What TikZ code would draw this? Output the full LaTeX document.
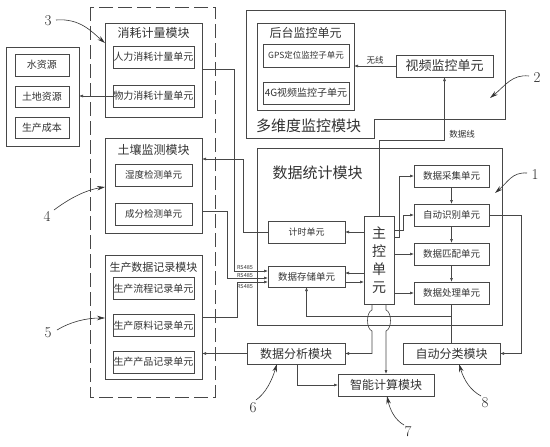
\documentclass[tikz,border=0pt]{standalone}
\usepackage{fontspec}
\newfontfamily\cjk{Noto Sans CJK SC}
\usetikzlibrary{arrows.meta}
\begin{document}
\begin{tikzpicture}[x=1pt,y=-1pt,
  ln/.style={draw=black!72, line width=0.6pt},
  arr/.style={ln, -{Latex[length=4pt,width=3pt]}},
  callout/.style={draw=black!80, line width=0.6pt, -{Stealth[length=8pt,width=4.5pt]}},
  box/.style={draw=black!72, line width=0.6pt, inner sep=0.5pt, outer sep=0pt, text=black!80, font=\cjk\fontsize{9.5pt}{11pt}\selectfont},
  ubox/.style={box, minimum width=77pt, minimum height=22pt},
  ubig/.style={ubox, font=\cjk\fontsize{10pt}{11pt}\selectfont},
  cont/.style={draw=black!72, line width=0.6pt, inner sep=0pt, outer sep=0pt},
  ttl/.style={inner sep=0pt, text=black!80, font=\cjk\fontsize{12pt}{13pt}\selectfont},
  big/.style={inner sep=0pt, text=black!80, font=\cjk\fontsize{15pt}{17pt}\selectfont},
  mbox/.style={box, font=\cjk\fontsize{12pt}{14pt}\selectfont},
  small/.style={inner sep=0pt, text=black!80, font=\cjk\fontsize{8.5pt}{9pt}\selectfont},
  rs/.style={inner sep=0pt, text=black!80, font=\cjk\fontsize{5.5pt}{6pt}\selectfont},
  num/.style={inner sep=0pt, text=black!85, font=\fontsize{15pt}{16pt}\selectfont},
  frame/.style={draw=black!72, line width=0.6pt, dash pattern=on 14pt off 5pt}
]
\useasboundingbox[fill=white] (0,0) rectangle (550,447);

% ---- left resource box
\node[cont, minimum width=73pt, minimum height=99pt] (res) at (42.5,96.5) {};
\node[box, minimum width=54pt, minimum height=22pt, font=\cjk\fontsize{10pt}{11pt}\selectfont] (water) at (42,65) {水资源};
\node[box, minimum width=54pt, minimum height=21pt, font=\cjk\fontsize{10pt}{11pt}\selectfont] (land) at (42,96.5) {土地资源};
\node[box, minimum width=54pt, minimum height=21pt, font=\cjk\fontsize{10pt}{11pt}\selectfont] (cost) at (42,127.5) {生产成本};

% ---- dashed frame
\draw[frame] (90,7) rectangle (215,397);

% ---- consumption module
\node[cont, minimum width=97pt, minimum height=94pt] (mod1) at (153.5,70) {};
\node[ttl] (t1) at (153.5,33) {消耗计量模块};
\node[ubig] (renli) at (153.5,57) {人力消耗计量单元};
\node[ubig] (wuli) at (153.5,96) {物力消耗计量单元};

% ---- soil module
\node[cont, minimum width=97pt, minimum height=95pt] (mod2) at (153.5,185.5) {};
\node[ttl] (t2) at (153.5,150) {土壤监测模块};
\node[ubox] (shidu) at (153.5,175) {湿度检测单元};
\node[ubox] (chengfen) at (153.5,214) {成分检测单元};

% ---- production record module
\node[cont, minimum width=97pt, minimum height=124pt] (mod3) at (153.5,317) {};
\node[ttl, font=\cjk\fontsize{11pt}{13pt}\selectfont] (t3) at (153.5,267) {生产数据记录模块};
\node[ubig] (liucheng) at (153.5,288.5) {生产流程记录单元};
\node[ubig] (yuanliao) at (153.5,325.5) {生产原料记录单元};
\node[ubig] (chanpin) at (153.5,362) {生产产品记录单元};

% ---- multi-dimension monitoring
\draw[ln] (246,10) -- (505,10) -- (505,119) -- (374,119) -- (374,138) -- (246,138) -- cycle;
\node[big, anchor=west] (t4) at (256,126) {多维度监控模块};
\node[cont, minimum width=97pt, minimum height=87pt] (houtai) at (305.5,66.5) {};
\node[ttl, font=\cjk\fontsize{12pt}{14pt}\selectfont] (t5) at (305.5,33) {后台监控单元};
\node[box, minimum width=86pt, minimum height=23pt, font=\cjk\fontsize{8.5pt}{9pt}\selectfont] (gps) at (306,55.5) {GPS定位监控子单元};
\node[box, minimum width=86pt, minimum height=22pt, font=\cjk\fontsize{10pt}{11pt}\selectfont] (sg) at (306,93) {4G视频监控子单元};
\node[mbox, minimum width=97pt, minimum height=22pt, font=\cjk\fontsize{13pt}{14pt}\selectfont] (shipin) at (444.5,66) {视频监控单元};

% ---- statistics module
\node[cont, minimum width=245pt, minimum height=177pt] (tongji) at (379.5,236.5) {};
\node[big] (t6) at (317.5,173) {数据统计模块};
\node[box, minimum width=30pt, minimum height=88pt, align=center, font=\cjk\fontsize{14pt}{18pt}\selectfont] (zhukong) at (379,260) {主\\控\\单\\元};
\node[ubox, font=\cjk\fontsize{9pt}{10pt}\selectfont] (jishi) at (306.5,232) {计时单元};
\node[ubox, minimum height=21pt] (cunchu) at (306.5,276.5) {数据存储单元};
\node[ubox, minimum width=75pt] (caiji) at (451.5,176) {数据采集单元};
\node[ubox, minimum width=75pt] (shibie) at (451.5,215) {自动识别单元};
\node[ubox, minimum width=75pt] (pipei) at (451.5,254) {数据匹配单元};
\node[ubox, minimum width=75pt] (chuli) at (451.5,293) {数据处理单元};

% ---- bottom modules
\node[mbox, minimum width=98pt, minimum height=21pt] (fenxi) at (296,353.5) {数据分析模块};
\node[mbox, minimum width=97pt, minimum height=21pt] (fenlei) at (451.5,353.5) {自动分类模块};
\node[mbox, minimum width=96pt, minimum height=22pt] (zhineng) at (386,385) {智能计算模块};

% ---- connectors
\draw[arr] (wuli.west) -- (wuli.west -| res.east);
\draw[arr] (mod1.east |- 0,69) -- (234,69) -- (234,271) -- (cunchu.west |- 0,271);
\draw[arr] (mod2.east |- 0,211) -| (227,278) -- (cunchu.west |- 0,278);
\draw[arr] (mod3.east |- 0,317) -| (237,282) -- (cunchu.west |- 0,282);
\node[rs] (rs1) at (245,267) {RS485};
\node[rs] (rs2) at (245,275) {RS485};
\node[rs] (rs3) at (245,286.5) {RS485};
\draw[arr] (jishi.west) -- (243,232) |- (mod2.east |- 0,159);
\draw[arr] (zhukong.west |- jishi.east) -- (jishi.east);
\draw[arr] (zhukong.west |- 0,273) -- (cunchu.east |- 0,273);
\draw[arr] (cunchu.east |- 0,282) -- (zhukong.west |- 0,282);
\draw[arr] (zhukong.east |- 0,237) -| (399,176) -- (caiji.west);
\draw[arr] (zhukong.east |- 0,230) -| (403,215) -- (shibie.west);
\draw[arr] (zhukong.east |- pipei.west) -- (pipei.west);
\draw[arr] (zhukong.east |- chuli.west) -- (chuli.west);
\draw[arr] (caiji.south) -- (shibie.north);
\draw[arr] (shibie.south) -- (pipei.north);
\draw[arr] (pipei.south) -- (chuli.north);
\draw[arr] (zhukong.north) |- (shipin.south |- 0,140) -- (shipin.south);
\node[small] (dl) at (462,134) {数据线};
\draw[arr] (shipin.west) -- (shipin.west -| houtai.east);
\node[small] (wx) at (375,60) {无线};
\draw[ln] (chuli.south) -- (fenlei.north);
\draw[arr] (chuli.south |- 0,316) -| (cunchu.south);
\draw[arr] (shibie.east) -- (521,215) |- (fenlei.east);
\draw[arr] (zhukong.south -| 372,0) -- (372,310) .. controls (366,312) and (366,329) .. (372,331) |- (fenxi.east);
\draw[arr] (zhukong.south -| 386,0) -- (386,310) .. controls (392,312) and (392,329) .. (386,331) -- (zhineng.north -| 386,0);
\draw[arr] (fenxi.south -| 297,0) |- (zhineng.west);
\draw[arr] (fenxi.west) -- (fenxi.west -| mod3.east);

% ---- callouts
\coordinate (c2) at (490,98);
\coordinate (c1) at (495,193);
\node[num] (n3) at (48,21) {3};
\node[num] (n4) at (47,216) {4};
\node[num] (n5) at (48,333) {5};
\node[num] (n2) at (537,78) {2};
\node[num] (n1) at (535,175) {1};
\node[num] (n6) at (253,408) {6};
\node[num] (n7) at (408,432) {7};
\node[num] (n8) at (485,403) {8};
\draw[callout] (56,20) .. controls (80,18) and (92,32) .. (mod1.west |- 0,43);
\draw[callout] (54,210) .. controls (70,198) and (86,190) .. (mod2.west |- 0,187);
\draw[callout] (57,330) .. controls (70,322) and (86,318) .. (mod3.west |- 0,318);
\draw[callout] (529,76) .. controls (512,74) and (505,86) .. (c2);
\draw[callout] (527,173) .. controls (512,172) and (508,182) .. (c1);
\draw[callout] (256,400) .. controls (266,393) and (272,380) .. (fenxi.south -| 277,0);
\draw[callout] (404,425) .. controls (395,420) and (390,410) .. (zhineng.south -| 387,0);
\draw[callout] (481,396) .. controls (470,390) and (464,380) .. (fenlei.south -| 459,0);
\end{tikzpicture}
\end{document}
